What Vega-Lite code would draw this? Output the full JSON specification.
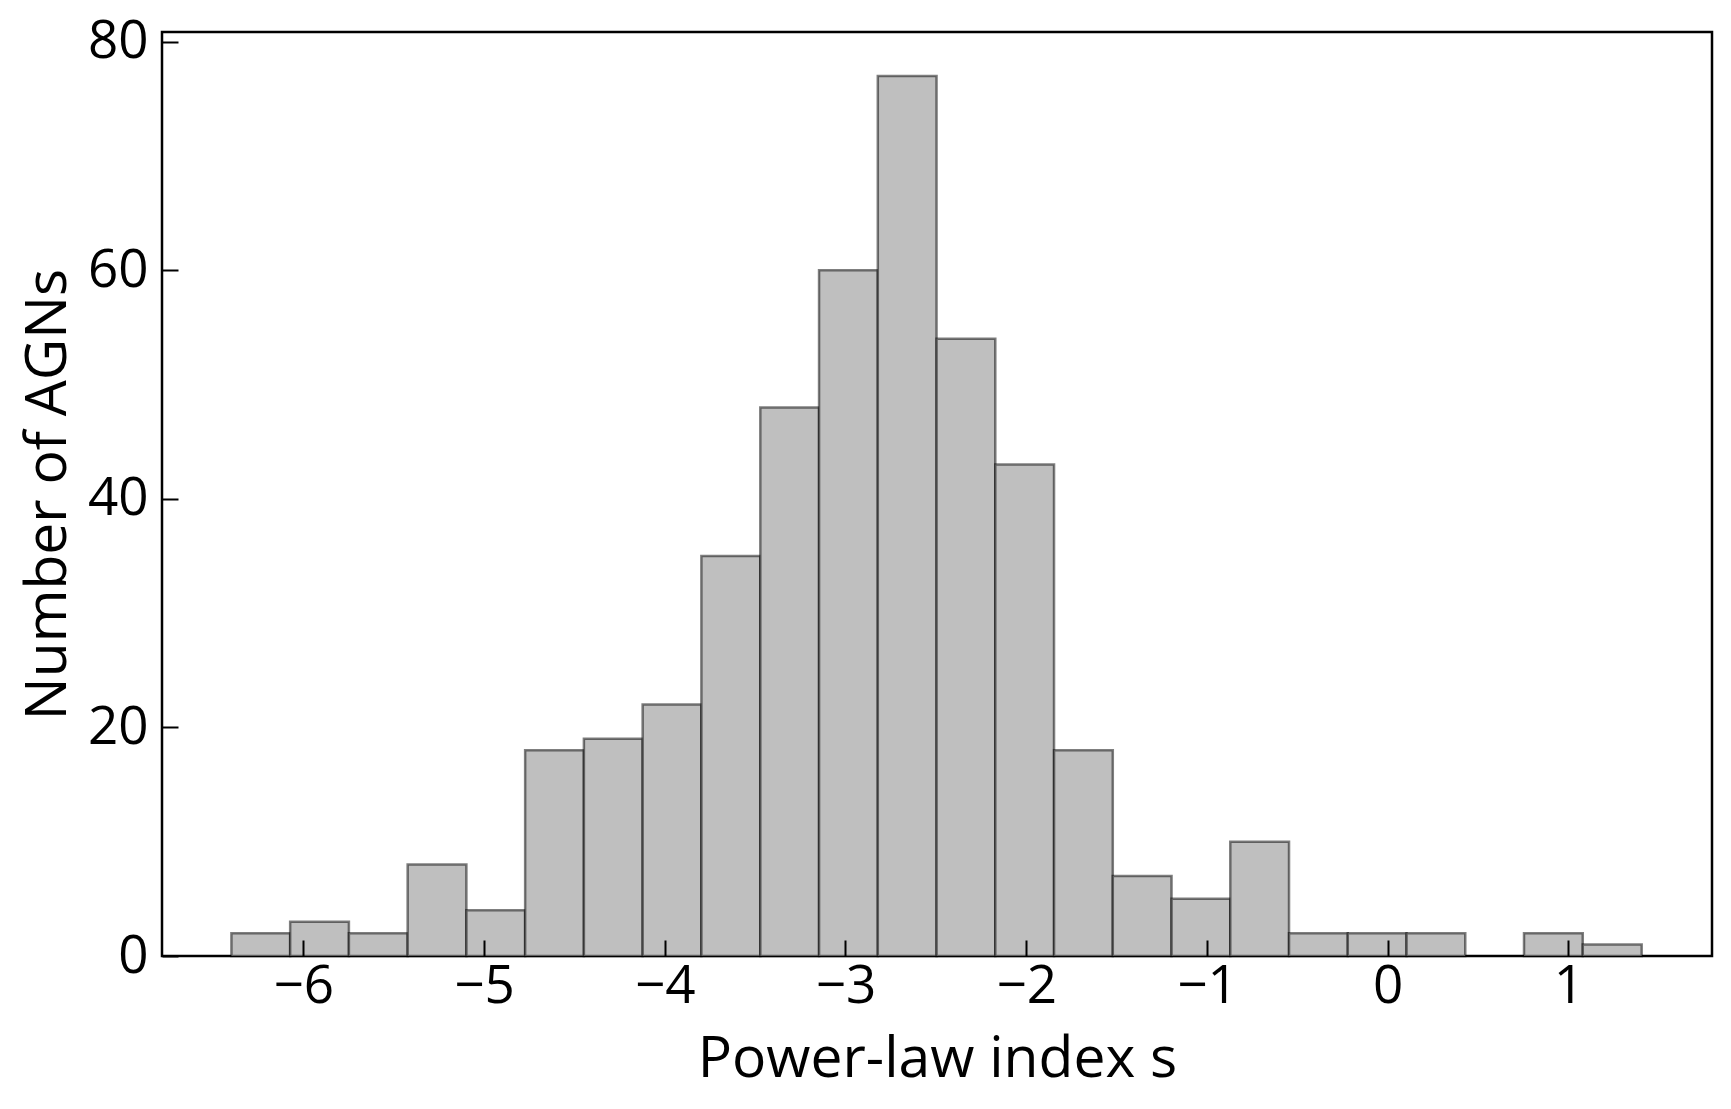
{
  "$schema": "https://vega.github.io/schema/vega-lite/v6.json",
  "width": 1550,
  "height": 924,
  "autosize": {"type": "none"},
  "padding": {"left": 162, "top": 32, "right": 19, "bottom": 153},
  "background": "white",
  "config": {
    "view": {"stroke": "black", "strokeWidth": 2.5},
    "font": "Open Sans",
    "axis": {
      "domain": false,
      "grid": false,
      "labelFont": "Open Sans",
      "titleFont": "Open Sans",
      "labelFontSize": 53,
      "titleFontSize": 57,
      "titleFontWeight": "normal",
      "labelColor": "black",
      "titleColor": "black",
      "tickColor": "black",
      "tickWidth": 2
    }
  },
  "data": {
    "values": [
      {"x0": -6.397, "x1": -6.072, "count": 2},
      {"x0": -6.072, "x1": -5.747, "count": 3},
      {"x0": -5.747, "x1": -5.422, "count": 2},
      {"x0": -5.422, "x1": -5.097, "count": 8},
      {"x0": -5.097, "x1": -4.772, "count": 4},
      {"x0": -4.772, "x1": -4.447, "count": 18},
      {"x0": -4.447, "x1": -4.122, "count": 19},
      {"x0": -4.122, "x1": -3.797, "count": 22},
      {"x0": -3.797, "x1": -3.471, "count": 35},
      {"x0": -3.471, "x1": -3.146, "count": 48},
      {"x0": -3.146, "x1": -2.821, "count": 60},
      {"x0": -2.821, "x1": -2.496, "count": 77},
      {"x0": -2.496, "x1": -2.171, "count": 54},
      {"x0": -2.171, "x1": -1.846, "count": 43},
      {"x0": -1.846, "x1": -1.521, "count": 18},
      {"x0": -1.521, "x1": -1.196, "count": 7},
      {"x0": -1.196, "x1": -0.871, "count": 5},
      {"x0": -0.871, "x1": -0.546, "count": 10},
      {"x0": -0.546, "x1": -0.221, "count": 2},
      {"x0": -0.221, "x1": 0.104, "count": 2},
      {"x0": 0.104, "x1": 0.429, "count": 2},
      {"x0": 0.754, "x1": 1.079, "count": 2},
      {"x0": 1.079, "x1": 1.405, "count": 1}
    ]
  },
  "mark": {
    "type": "rect",
    "fill": "#bfbfbf",
    "stroke": "black",
    "strokeOpacity": 0.5,
    "strokeWidth": 2.5
  },
  "encoding": {
    "x": {
      "field": "x0",
      "type": "quantitative",
      "scale": {"domain": [-6.781, 1.794], "nice": false, "zero": false},
      "axis": {
        "title": "Power-law index s",
        "values": [-6, -5, -4, -3, -2, -1, 0, 1],
        "format": "d",
        "zindex": 1,
        "offset": -16,
        "tickSize": 16,
        "labelPadding": 4,
        "titlePadding": 18
      }
    },
    "x2": {"field": "x1"},
    "y": {
      "field": "count",
      "type": "quantitative",
      "scale": {"domain": [0, 80.85], "nice": false},
      "axis": {
        "title": "Number of AGNs",
        "values": [0, 20, 40, 60, 80],
        "zindex": 1,
        "offset": -16,
        "tickSize": 16,
        "labelPadding": 14,
        "titlePadding": 10
      }
    },
    "y2": {"datum": 0}
  }
}
